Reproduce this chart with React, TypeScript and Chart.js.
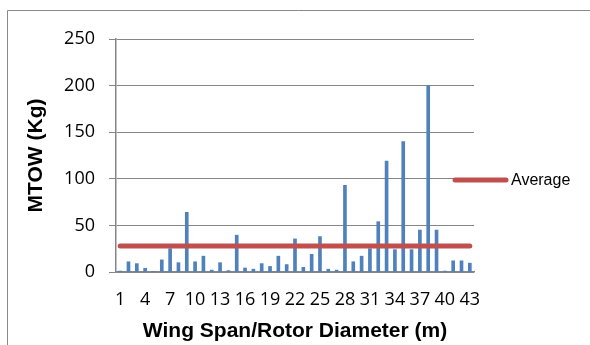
import React, { useEffect, useRef } from "react";
import { Chart, registerables } from "chart.js";

Chart.register(...registerables);

const categories: string[] = [
  "1", "2", "3", "4", "5", "6", "7", "8", "9", "10",
  "11", "12", "13", "14", "15", "16", "17", "18", "19", "20",
  "21", "22", "23", "24", "25", "26", "27", "28", "29", "30",
  "31", "32", "33", "34", "35", "36", "37", "38", "39", "40",
  "41", "42", "43",
];

const mtowValues: number[] = [
  1, 11, 9, 4, 0.3, 13, 25, 10, 64, 11,
  17, 2, 10, 1.5, 39.5, 4.3, 3, 9, 6, 17,
  8, 35.5, 5, 19, 38, 3, 2, 93, 11, 17,
  25, 54, 119, 24, 140, 24, 45, 200, 45, 1,
  12, 12, 9.5,
];

const averageValue = 28;
const averageValues: number[] = categories.map(() => averageValue);

const yTicks: number[] = [0, 50, 100, 150, 200, 250];
const xTickEvery = 3;

const AXIS_GRAY = "#868686";
const BAR_BLUE = "#4F81BD";
const AVG_RED = "#C0504D";

const framePlugin = {
  id: "frame",
  beforeDraw(chart: any) {
    const ctx = chart.ctx;
    ctx.save();
    ctx.strokeStyle = "#8a8a8a";
    ctx.lineWidth = 1;
    ctx.beginPath();
    ctx.moveTo(7.5, chart.height);
    ctx.lineTo(7.5, 10.5);
    ctx.lineTo(chart.width, 10.5);
    ctx.stroke();
    ctx.restore();
  },
};

const legendPlugin = {
  id: "customLegend",
  afterDraw(chart: any) {
    const ctx = chart.ctx;
    const ds = chart.data.datasets[0];
    const y = 180;
    ctx.save();
    ctx.strokeStyle = ds.borderColor;
    ctx.lineWidth = 5;
    ctx.lineCap = "round";
    ctx.beginPath();
    ctx.moveTo(455, y);
    ctx.lineTo(506, y);
    ctx.stroke();
    ctx.fillStyle = "#000";
    ctx.font = '16px "Liberation Sans", Arial, sans-serif';
    ctx.textBaseline = "middle";
    ctx.textAlign = "left";
    ctx.fillText(ds.label, 511, y + 1);
    ctx.restore();
  },
};

export default function App() {
  const canvasRef = useRef<HTMLCanvasElement | null>(null);

  useEffect(() => {
    if (!canvasRef.current) return;
    const chart = new Chart(canvasRef.current, {
      type: "bar",
      data: {
        labels: categories,
        datasets: [
          {
            type: "line",
            label: "Average",
            data: averageValues,
            borderColor: AVG_RED,
            backgroundColor: AVG_RED,
            borderWidth: 5,
            borderCapStyle: "round",
            pointRadius: 0,
            tension: 0,
          } as any,
          {
            type: "bar",
            label: "MTOW",
            data: mtowValues,
            backgroundColor: BAR_BLUE,
            barThickness: 3,
          } as any,
        ],
      },
      options: {
        animation: false,
        responsive: true,
        maintainAspectRatio: false,
        layout: { padding: { top: 39, right: 116, bottom: 0, left: 0 } },
        plugins: {
          legend: { display: false },
          tooltip: { enabled: false },
        },
        scales: {
          x: {
            grid: { display: false, drawTicks: false },
            border: { display: true, color: AXIS_GRAY, width: 1.5 },
            ticks: {
              autoSkip: false,
              maxRotation: 0,
              minRotation: 0,
              padding: 17,
              color: "#000",
              font: { family: '"Open Sans", sans-serif', size: 18 },
              callback: (_v: any, i: number) =>
                i % xTickEvery === 0 ? categories[i] : "",
            },
            title: {
              display: true,
              text: "Wing Span/Rotor Diameter (m)",
              color: "#000",
              font: { family: '"Liberation Sans", Arial, sans-serif', size: 21, weight: "bold" },
              padding: { top: 0, bottom: 1 },
            },
            afterFit: (scale: any) => {
              scale.height = 73;
            },
          },
          y: {
            min: yTicks[0],
            max: yTicks[yTicks.length - 1],
            ticks: {
              stepSize: yTicks[1] - yTicks[0],
              padding: 14,
              color: "#000",
              font: { family: '"Open Sans", sans-serif', size: 18 },
            },
            grid: { color: AXIS_GRAY, lineWidth: 1, tickLength: 7 },
            border: { display: true, color: AXIS_GRAY, width: 1.5 },
            title: {
              display: true,
              text: "MTOW (Kg)",
              color: "#000",
              font: { family: '"Liberation Sans", Arial, sans-serif', size: 21, weight: "bold" },
              padding: { top: 24, bottom: 0 },
            },
            afterFit: (scale: any) => {
              scale.width = 116;
            },
          },
        },
      },
      plugins: [framePlugin, legendPlugin],
    });
    return () => chart.destroy();
  }, []);

  return (
    <div style={{ position: "absolute", left: 0, top: 0, width: 590, height: 345, background: "#fff" }}>
      <canvas ref={canvasRef} />
    </div>
  );
}
